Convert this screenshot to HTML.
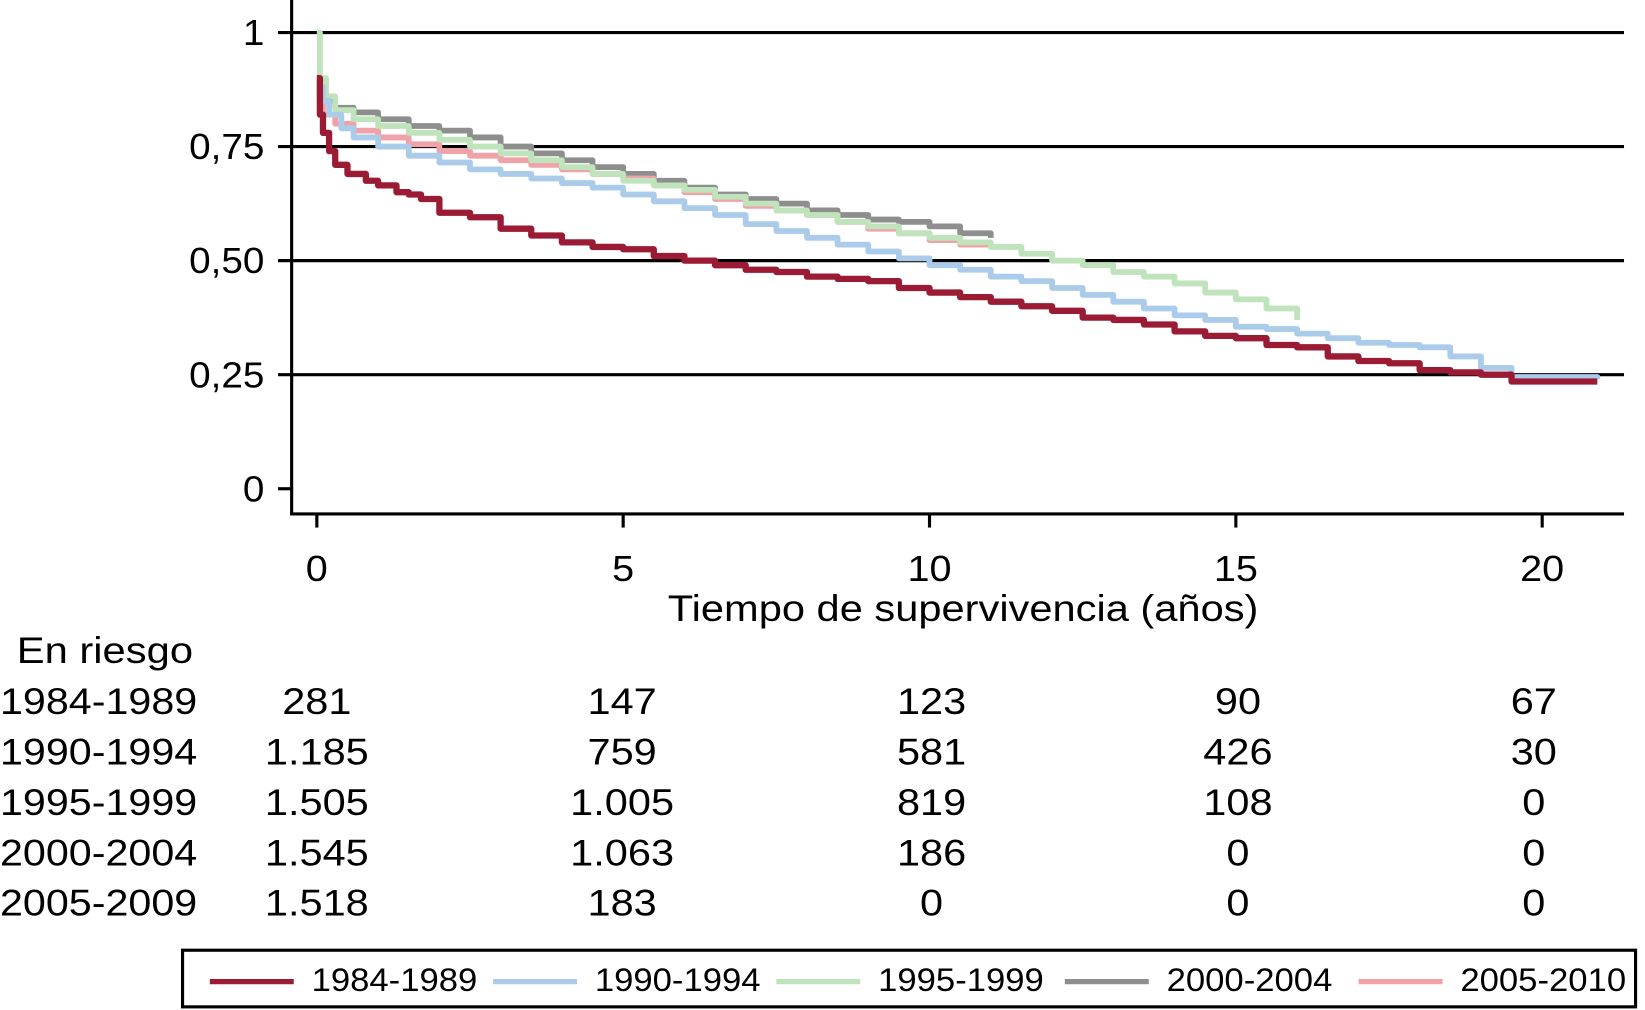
<!DOCTYPE html>
<html><head><meta charset="utf-8"><style>
html,body{margin:0;padding:0;background:#fff;}
svg{display:block;font-family:"Liberation Sans",sans-serif;}
</style></head><body>
<svg id="chart" width="1645" height="1010" viewBox="0 0 1568 963" preserveAspectRatio="none">
<g id="grid"></g><g id="series"></g><g id="axes"></g><g id="table"></g><g id="legend"></g>
</svg>
<script>
const xTicks=[0,5,10,15,20];
const yTicks=[0,0.25,0.5,0.75,1];
const yTickLabels=["0","0,25","0,50","0,75","1"];
const seriesNames=["1984-1989","1990-1994","1995-1999","2000-2004","2005-2010"];
const t1=[0,0.05,0.1,0.2,0.3,0.5,0.8,1,1.3,1.5,1.7,2,2.5,3,3.5,4,4.5,5,5.5,6,6.5,7,7.5,8,8.5,9,9.5,10,10.5,11,11.5,12,12.5,13,13.5,14,14.5,15,15.5,16,16.5,17,17.5,18,18.5,19,19.5,20.9];
const s1=[0.9,0.82,0.78,0.74,0.71,0.69,0.675,0.665,0.65,0.645,0.635,0.605,0.595,0.57,0.555,0.54,0.53,0.525,0.51,0.5,0.49,0.48,0.475,0.465,0.46,0.455,0.44,0.43,0.42,0.41,0.4,0.39,0.375,0.37,0.36,0.345,0.335,0.33,0.315,0.31,0.29,0.28,0.275,0.26,0.255,0.25,0.235,0.235];
const t2=[0,0.1,0.2,0.4,0.6,1,1.5,2,2.5,3,3.5,4,4.5,5,5.5,6,6.5,7,7.5,8,8.5,9,9.5,10,10.5,11,11.5,12,12.5,13,13.5,14,14.5,15,15.5,16,16.5,17,17.5,18,18.5,19,19.5,20.9];
const s2=[0.88,0.85,0.82,0.79,0.77,0.75,0.73,0.715,0.7,0.69,0.68,0.67,0.66,0.645,0.63,0.615,0.6,0.58,0.565,0.55,0.535,0.52,0.505,0.49,0.48,0.465,0.455,0.44,0.425,0.41,0.395,0.38,0.37,0.355,0.35,0.34,0.33,0.32,0.315,0.31,0.29,0.265,0.245,0.24];
const t3=[0,0.05,0.15,0.3,0.6,1,1.5,2,2.5,3,3.5,4,4.5,5,5.5,6,6.5,7,7.5,8,8.5,9,9.5,10,10.5,11,11.5,12,12.5,13,13.5,14,14.5,15,15.5,16];
const s3=[1.0,0.9,0.86,0.83,0.81,0.795,0.78,0.765,0.75,0.735,0.72,0.705,0.69,0.675,0.665,0.655,0.64,0.625,0.61,0.6,0.585,0.575,0.56,0.55,0.54,0.53,0.515,0.5,0.49,0.475,0.465,0.45,0.43,0.415,0.395,0.37];
const t4=[0,0.1,0.3,0.6,1,1.5,2,2.5,3,3.5,4,4.5,5,5.5,6,6.5,7,7.5,8,8.5,9,9.5,10,10.5,11];
const s4=[0.88,0.85,0.835,0.825,0.81,0.795,0.785,0.77,0.75,0.735,0.72,0.705,0.69,0.675,0.66,0.645,0.635,0.625,0.61,0.6,0.59,0.585,0.575,0.56,0.55];
const t5=[0,0.1,0.3,0.6,1,1.5,2,2.5,3,3.5,4,4.5,5,5.5,6,6.5,7,7.5,8,8.5,9,9.5,10,10.5,11];
const s5=[0.86,0.82,0.8,0.785,0.77,0.755,0.74,0.73,0.72,0.71,0.7,0.69,0.68,0.665,0.65,0.635,0.62,0.61,0.6,0.585,0.57,0.56,0.545,0.535,0.53];
const riskRowLabels=["1984-1989","1990-1994","1995-1999","2000-2004","2005-2009"];
const riskValues=[["281","147","123","90","67"],["1.185","759","581","426","30"],["1.505","1.005","819","108","0"],["1.545","1.063","186","0","0"],["1.518","183","0","0","0"]];
const colors=["#9b1b35","#aacbea","#bfe3bb","#8e8e8e","#f0a2a8"];
const NS="http://www.w3.org/2000/svg";
const X=t=>302+t*58.4, Y=v=>466-v*435;
const CW=21.5; // approx char width for stretched text
function mk(tag,attrs,parent,text){const e=document.createElementNS(NS,tag);for(const k in attrs)e.setAttribute(k,attrs[k]);if(text!==undefined)e.textContent=text;parent.appendChild(e);return e;}
function tl(s,w){let n=0;for(const c of s){n+=(c==='.'||c===',')?0.5:(c==='-'?0.6:1);}return n*w;}
const grid=document.getElementById('grid'),axes=document.getElementById('axes');
yTicks.forEach((v,i)=>{
 if(v>0){const l=mk('line',{x1:265,x2:1548,y1:Y(v),y2:Y(v),stroke:'#000','stroke-width':3},grid);
 
 }
 else{const l=mk('line',{x1:265,x2:278,y1:Y(v),y2:Y(v),stroke:'#000','stroke-width':3},grid);
 
 }
 const tx=mk('text',{x:252,y:Y(v)+12,'text-anchor':'end','font-size':34,textLength:tl(yTickLabels[i],20.5),lengthAdjust:'spacingAndGlyphs'},axes,yTickLabels[i]);
 
 
});
const ya=mk('line',{x1:278,x2:278,y1:0,y2:491,stroke:'#000','stroke-width':3},axes);


const xa=mk('line',{x1:276.5,x2:1548,y1:490,y2:490,stroke:'#000','stroke-width':3},axes);


xTicks.forEach(t=>{
 const l=mk('line',{x1:X(t),x2:X(t),y1:490,y2:503,stroke:'#000','stroke-width':3},axes);
 
 
 const s=String(t);
 const tx=mk('text',{x:X(t),y:554,'text-anchor':'middle','font-size':34,textLength:tl(s,21),lengthAdjust:'spacingAndGlyphs'},axes,s);
 
 
});
const xt=mk('text',{x:918,y:592,'text-anchor':'middle','font-size':35,textLength:563,lengthAdjust:'spacingAndGlyphs'},axes,'Tiempo de supervivencia (años)');


const ser=document.getElementById('series');
const allT=[t1,t2,t3,t4,t5],allS=[s1,s2,s3,s4,s5];
[3,4,2,1,0].forEach(k=>{
 const T=allT[k],S=allS[k];let d='M'+X(T[0])+','+Y(S[0]);
 for(let i=1;i<T.length;i++){d+=' H'+X(T[i])+' V'+Y(S[i]);}
 const p=mk('path',{d:d,fill:'none',stroke:colors[k],'stroke-width':k===0?6:5.5,'stroke-linejoin':'round'},ser);
 
 
});
const tb=document.getElementById('table');
const er=mk('text',{x:16,y:632,'font-size':35,textLength:168,lengthAdjust:'spacingAndGlyphs'},tb,'En riesgo');


const colX=[302,593,888,1180,1462];
riskRowLabels.forEach((lab,r)=>{
 const y=681+r*48;
 const a=mk('text',{x:0,y:y,'font-size':35,textLength:188,lengthAdjust:'spacingAndGlyphs'},tb,lab);
 
 
 riskValues[r].forEach((v,c)=>{
  const b=mk('text',{x:colX[c],y:y,'text-anchor':'middle','font-size':35,textLength:tl(v,22),lengthAdjust:'spacingAndGlyphs'},tb,v);
  
  
 });
});
const lg=document.getElementById('legend');
const box=mk('rect',{x:174,y:906,width:1385,height:54,fill:'none',stroke:'#000','stroke-width':3},lg);


const lx=[200,470,740,1015,1295];
seriesNames.forEach((n,i)=>{
 const l=mk('line',{x1:lx[i],x2:lx[i]+80,y1:936,y2:936,stroke:colors[i],'stroke-width':5},lg);
 
 
 const t=mk('text',{x:lx[i]+97,y:945,'font-size':31,textLength:158,lengthAdjust:'spacingAndGlyphs'},lg,n);
 
 
});
</script>
</body></html>
